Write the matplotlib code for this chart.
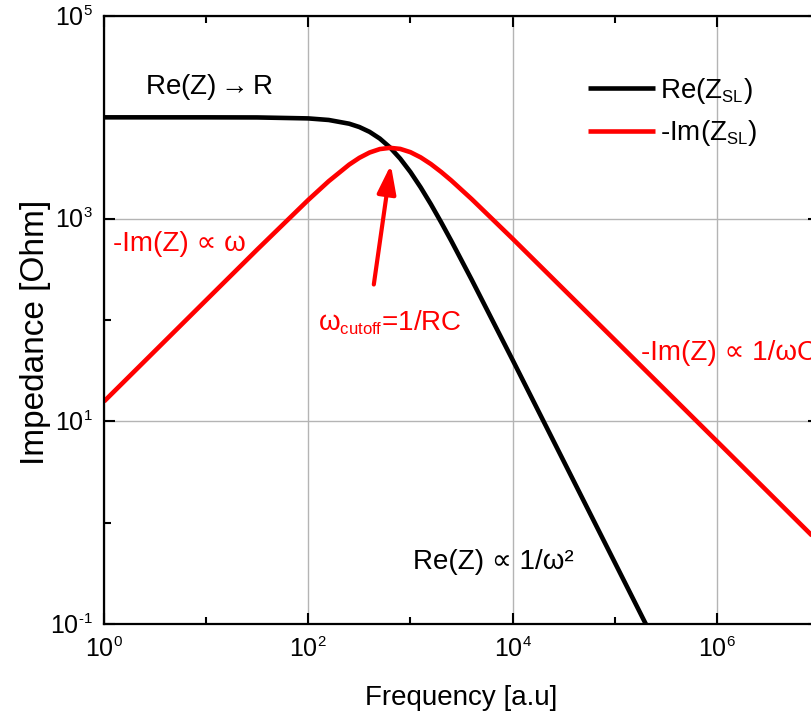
import matplotlib
matplotlib.use("Agg")
import matplotlib.pyplot as plt
from matplotlib.ticker import FixedLocator, FixedFormatter, NullFormatter
try:
    import matplotlib._mathtext as _mt
    _mt.SHRINK_FACTOR = 0.6
except Exception:
    pass

plt.rcParams['font.family'] = ['Liberation Sans', 'DejaVu Sans']
plt.rcParams['mathtext.fontset'] = 'custom'
plt.rcParams['mathtext.rm'] = 'Liberation Sans'
plt.rcParams['mathtext.it'] = 'Liberation Sans:italic'
plt.rcParams['mathtext.bf'] = 'Liberation Sans:bold'
plt.rcParams['axes.unicode_minus'] = False

# Frequency points (a.u.)
freq = [1, 10, 31.6, 100, 158.5, 251.2, 316.2, 398.1, 501.2, 631.0, 794.3,
        1000, 1259, 1585, 1995, 2512, 3981, 10000, 1e5, 1e6, 1e7]
re_z = [10000, 9998, 9975, 9759, 9417, 8653, 8022, 7190, 6175, 5046, 3912,
        2885, 2037, 1390, 924.5, 603.9, 249.4, 40.4, 0.406, 0.00406, 4.06e-5]
neg_im_z = [15.7, 157.0, 495.3, 1532, 2343, 3414, 3984, 4495, 4860, 5000, 4880,
            4531, 4027, 3460, 2896, 2382, 1559, 634.5, 63.7, 6.37, 0.637]

x_major = [1, 1e2, 1e4, 1e6]
x_major_labels = [r'10$^\mathregular{0}$', r'10$^\mathregular{2}$', r'10$^\mathregular{4}$', r'10$^\mathregular{6}$']
x_minor = [10, 1e3, 1e5, 1e7]
y_major = [0.1, 10, 1e3, 1e5]
y_major_labels = [r'10$^\mathregular{\text{-}1}$', r'10$^\mathregular{1}$', r'10$^\mathregular{3}$', r'10$^\mathregular{5}$']
y_minor = [1, 100, 1e4]

RED = '#ff0000'
W, H = 811, 717
fig = plt.figure(figsize=(W / 100, H / 100), dpi=100)
ax = fig.add_axes([104 / W, 1 - 624 / H, (819 - 104) / W, (624 - 16) / H])

ax.plot(freq, re_z, color='black', lw=3.3, label=r'Re(Z$_\mathregular{SL}$)', solid_capstyle='butt')
ax.plot(freq, neg_im_z, color=RED, lw=3.3, label=r'-Im(Z$_\mathregular{SL}$)', solid_capstyle='butt')

ax.set_xscale('log')
ax.set_yscale('log')
ax.set_xlim(1, 1e7)
ax.set_ylim(0.1, 1e5)
ax.xaxis.set_major_locator(FixedLocator(x_major))
ax.xaxis.set_minor_locator(FixedLocator(x_minor))
ax.yaxis.set_major_locator(FixedLocator(y_major))
ax.yaxis.set_minor_locator(FixedLocator(y_minor))
ax.xaxis.set_major_formatter(FixedFormatter(x_major_labels))
ax.yaxis.set_major_formatter(FixedFormatter(y_major_labels))
ax.xaxis.set_minor_formatter(NullFormatter())
ax.yaxis.set_minor_formatter(NullFormatter())

ax.grid(True, which='major', color='#b4b4b4', lw=1.0)
ax.set_axisbelow(True)
ax.tick_params(which='both', direction='in', top=True, right=True, width=1.5, labelsize=18, colors='black')
ax.tick_params(which='major', length=8, pad=8)
ax.tick_params(axis='x', which='major', pad=10)
ax.tick_params(which='minor', length=5)
for s in ax.spines.values():
    s.set_linewidth(1.6)

ax.set_xlabel('Frequency [a.u]', fontsize=20, labelpad=16)
ax.set_ylabel('Impedance [Ohm]', fontsize=24)
ax.yaxis.set_label_coords(-0.074, 0.48)

fs = 20
ax.text(2.52, 19950, r'Re(Z)$\rightarrow$R', fontsize=fs, color='black', va='center', ha='left')
ax.text(1.22, 567, '-Im(Z) ∝ ω', fontsize=fs, color=RED, va='center', ha='left')
ax.text(124, 95, r'ω$_\mathregular{cutoff}$=1/RC', fontsize=fs, color=RED, va='center', ha='left')
ax.text(1.8e5, 47, '-Im(Z) ∝ 1/ωC', fontsize=fs, color=RED, va='center', ha='left')
ax.text(1055, 0.408, 'Re(Z) ∝ 1/ω²', fontsize=fs, color='black', va='center', ha='left')

ax.annotate('', xy=(643, 3400), xytext=(438, 224), xycoords='data', textcoords='data',
            arrowprops=dict(arrowstyle='-|>,head_length=1.15,head_width=0.38', mutation_scale=15,
                            color=RED, lw=3, shrinkA=0, shrinkB=0))

leg = ax.legend(loc='upper left', bbox_to_anchor=(588 / W, 1 - 76 / H), bbox_transform=fig.transFigure,
                frameon=False, fontsize=fs, handlelength=2.4, handletextpad=0.2, labelspacing=0.45,
                borderpad=0, borderaxespad=0)

fig.savefig('out.png', dpi=100)
